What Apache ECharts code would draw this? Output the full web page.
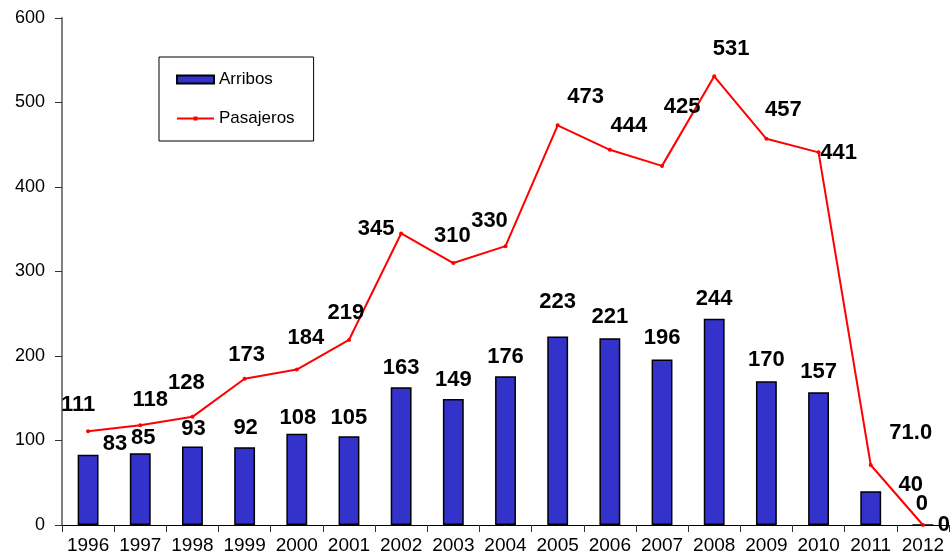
<!DOCTYPE html>
<html>
<head>
<meta charset="utf-8">
<script src="https://cdn.jsdelivr.net/npm/echarts@6/dist/echarts.min.js"></script>
<style>
  html, body { margin: 0; padding: 0; background: #fff; }
  #chart { width: 952px; height: 556px; }
</style>
</head>
<body>
<div id="chart"></div>
<script>
// datos
var years = ['1996', '1997', '1998', '1999', '2000', '2001', '2002', '2003', '2004',
  '2005', '2006', '2007', '2008', '2009', '2010', '2011', '2012'];
var arribos = [83, 85, 93, 92, 108, 105, 163, 149, 176, 223, 221, 196, 244, 170, 157, 40, 0];
var pasajeros = [111, 118, 128, 173, 184, 219, 345, 310, 330, 473, 444, 425, 531, 457, 441, 71.0, 0];
var pasajerosText = ['111', '118', '128', '173', '184', '219', '345', '310', '330',
  '473', '444', '425', '531', '457', '441', '71.0', '0'];

// desplazamiento de etiquetas (como en el original)
var arribosOffsets = [[27, 4], [3, 0], [1, -2], [1, -4], [1, -1], [0, -3], [0, -4], [0, -4], [0, -4],
  [0, -20], [0, -6], [0, -6], [0, -5], [0, -6], [0, -5], [40, 9], [-1, -5]];
var pasajerosOffsets = [[-10, -9], [10, -8], [-6, -17], [2, -7], [9, -15], [-3, -10], [-25, 12], [-1, -10], [-16, -8],
  [28, -11], [19, -7], [20, -42], [17, -10], [17, -12], [20, 18], [40, -15], [21, 17]];

var FONT = 'Liberation Sans, Arial, sans-serif';
var labelFont = { fontFamily: FONT, fontWeight: 'bold', fontSize: 22, color: '#000' };

var chart = echarts.init(document.getElementById('chart'));

var barData = arribos.map(function (v, i) {
  return { value: v, label: { offset: arribosOffsets[i] } };
});
var lineData = pasajeros.map(function (v, i) {
  return { value: v, label: { offset: pasajerosOffsets[i], formatter: pasajerosText[i] } };
});

var option = {
  animation: false,
  backgroundColor: '#fff',
  grid: { left: 62, right: 3, top: 18, bottom: 31, containLabel: false },
  legend: {
    orient: 'vertical',
    left: 159,
    top: 57,
    padding: [14, 19, 14, 17],
    borderColor: '#000',
    borderWidth: 1,
    itemWidth: 37,
    itemHeight: 8,
    itemGap: 22,
    textStyle: { fontFamily: FONT, fontSize: 17, color: '#000' },
    data: [
      { name: 'Arribos', icon: 'rect' },
      { name: 'Pasajeros', icon: 'path://M0,0h0.01v8h-0.01z M0,3.1h37v1.8h-37z M16.5,2h4v4h-4z' }
    ]
  },
  xAxis: {
    type: 'category',
    data: years,
    boundaryGap: true,
    axisLine: { lineStyle: { color: '#000', width: 1 } },
    axisTick: { show: true, length: 7, lineStyle: { color: '#333' } },
    axisLabel: { fontFamily: FONT, fontSize: 19, color: '#000', margin: 11, interval: 0 }
  },
  yAxis: {
    type: 'value',
    min: 0,
    max: 600,
    interval: 100,
    splitLine: { show: false },
    axisLine: { show: true, lineStyle: { color: '#808080', width: 2 } },
    axisTick: { show: true, length: 7, lineStyle: { color: '#333' } },
    axisLabel: { fontFamily: FONT, fontSize: 18, color: '#000', margin: 17 }
  },
  series: [
    {
      name: 'Arribos',
      type: 'bar',
      data: barData,
      barWidth: '40%',
      itemStyle: { color: '#3333CC', borderColor: '#000', borderWidth: 1.5 },
      label: Object.assign({ show: true, position: 'top', distance: 4 }, labelFont)
    },
    {
      name: 'Pasajeros',
      type: 'line',
      data: lineData,
      symbol: 'circle',
      symbolSize: 4,
      lineStyle: { color: '#FF0000', width: 2 },
      itemStyle: { color: '#FF0000' },
      label: Object.assign({ show: true, position: 'top', distance: 4 }, labelFont),
      z: 3
    }
  ]
};

chart.setOption(option);
</script>
</body>
</html>
